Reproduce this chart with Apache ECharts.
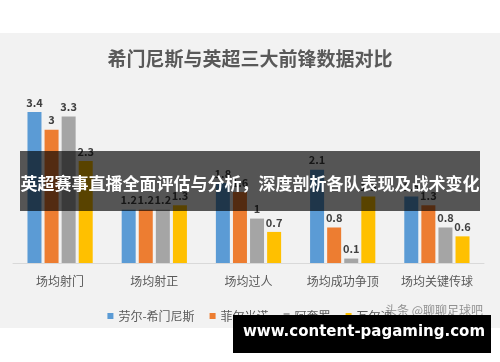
<!DOCTYPE html>
<html>
<head>
<meta charset="utf-8">
<script src="https://cdn.jsdelivr.net/npm/echarts@6/dist/echarts.min.js"></script>
<style>
html,body{margin:0;padding:0;background:#fff}
#chart{width:500px;height:362px}
</style>
</head>
<body>
<div id="chart"></div>
<script>
let categories = ["场均射门","场均射正","场均过人","场均成功争顶","场均关键传球"]
let names = ["劳尔-希门尼斯","菲尔米诺","阿奎罗","瓦尔迪"]
let jimenez = [3.4,1.2,1.8,2.1,1.5]
let firmino = [3,1.2,1.6,0.8,1.3]
let aguero = [3.3,1.2,1,0.1,0.8]
let vardy = [2.3,1.3,0.7,1.5,0.6]
let colors = ["#5b9bd5","#ed7d31","#a5a5a5","#ffc000"]

let chart = echarts.init(document.getElementById("chart"))
let font = "'Noto Sans CJK SC', sans-serif"

/** 生成系列 */
function makeSeries(name,data,color){
    return {
        name:name,
        type:"bar",
        data:data,
        barWidth:14,
        barGap:"22%",
        itemStyle:{color:color},
        label:{show:true,position:"top",distance:4,color:"#404040",fontSize:11,fontFamily:font,fontWeight:"bold"}
    }
}

chart.setOption({
    backgroundColor:"#ffffff",
    animation:false,
    textStyle:{fontFamily:font},
    title:{
        text:"希门尼斯与英超三大前锋数据对比",
        left:"center",
        top:44,
        textStyle:{fontSize:19,color:"#595959",fontWeight:"bold",fontFamily:font}
    },
    legend:{
        data:names,
        left:"center",
        top:305,
        icon:"rect",
        itemWidth:6,
        itemHeight:6,
        itemGap:15,
        textStyle:{fontSize:12,color:"#595959",fontFamily:font}
    },
    grid:{left:13,right:16,top:85.4,bottom:99},
    xAxis:{
        type:"category",
        data:categories,
        axisTick:{show:false},
        axisLine:{lineStyle:{color:"#d9d9d9"}},
        axisLabel:{fontSize:12,color:"#595959",margin:12,fontFamily:font}
    },
    yAxis:{type:"value",min:0,max:4,show:false,splitLine:{show:false}},
    series:[
        makeSeries(names[0],jimenez,colors[0]),
        makeSeries(names[1],firmino,colors[1]),
        makeSeries(names[2],aguero,colors[2]),
        makeSeries(names[3],vardy,colors[3])
    ],
    graphic:[
        {type:"rect",z:-10,shape:{x:0,y:33,width:500,height:295},style:{fill:"#f2f2f2"}},
        {type:"rect",z:100,shape:{x:20,y:151,width:460,height:60},style:{fill:"rgba(0,0,0,0.65)"}},
        {type:"text",z:101,left:"center",top:175,style:{text:"英超赛事直播全面评估与分析，深度剖析各队表现及战术变化",fill:"#ffffff",fontSize:17,fontWeight:"bold",fontFamily:font}},
        {type:"text",z:101,left:385,top:304,style:{text:"头条 @聊聊足球吧",fill:"rgba(120,120,120,0.8)",fontSize:12,fontFamily:font}},
        {type:"rect",z:102,shape:{x:233,y:315,width:258,height:38},style:{fill:"#000000"}},
        {type:"text",z:103,left:243,top:325,style:{text:"www.content-pagaming.com",fill:"#ffffff",fontSize:15,fontWeight:"bold",fontFamily:"'DejaVu Sans', sans-serif"}}
    ]
})
</script>
</body>
</html>
